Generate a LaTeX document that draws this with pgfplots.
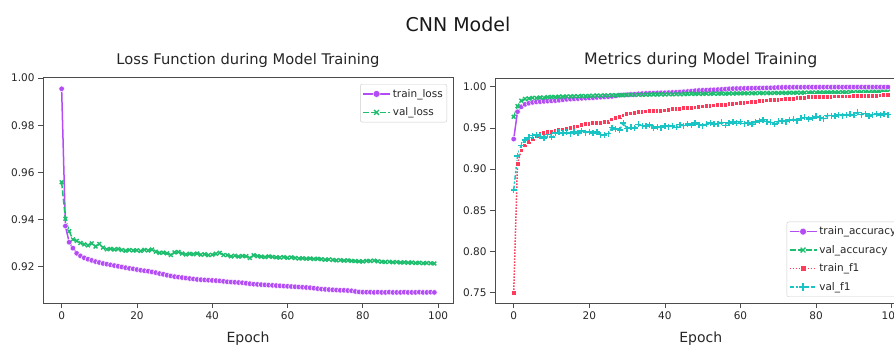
\documentclass[border=0pt]{standalone}
\usepackage{fontspec}
\setmainfont{DejaVu Sans}
\usepackage{pgfplots}
\usepackage{pgfplotstable}
\pgfplotsset{compat=1.18}
\definecolor{cpurple}{HTML}{B44CF5}
\definecolor{cgreen}{HTML}{1DBE6E}
\definecolor{cred}{HTML}{FF3B5C}
\definecolor{ccyan}{HTML}{19C4C4}

\pgfplotstableread{
ep tl vl
0 0.9955 0.9558
1 0.9372 0.9403
2 0.9303 0.9350
3 0.9278 0.9315
4 0.9256 0.9309
5 0.9245 0.9300
6 0.9237 0.9294
7 0.9231 0.9290
8 0.9226 0.9298
9 0.9221 0.9285
10 0.9217 0.9296
11 0.9213 0.9280
12 0.9210 0.9273
13 0.9207 0.9275
14 0.9204 0.9272
15 0.9201 0.9274
16 0.9198 0.9270
17 0.9195 0.9267
18 0.9192 0.9270
19 0.9190 0.9268
20 0.9187 0.9269
21 0.9184 0.9266
22 0.9182 0.9271
23 0.9180 0.9268
24 0.9177 0.9272
25 0.9174 0.9263
26 0.9170 0.9258
27 0.9167 0.9259
28 0.9163 0.9256
29 0.9160 0.9249
30 0.9157 0.9260
31 0.9155 0.9262
32 0.9153 0.9255
33 0.9151 0.9251
34 0.9149 0.9254
35 0.9147 0.9252
36 0.9145 0.9255
37 0.9144 0.9250
38 0.9143 0.9252
39 0.9142 0.9248
40 0.9141 0.9250
41 0.9140 0.9254
42 0.9139 0.9258
43 0.9137 0.9249
44 0.9135 0.9248
45 0.9134 0.9243
46 0.9133 0.9246
47 0.9132 0.9242
48 0.9131 0.9245
49 0.9129 0.9244
50 0.9127 0.9236
51 0.9125 0.9248
52 0.9124 0.9244
53 0.9123 0.9242
54 0.9122 0.9240
55 0.9121 0.9243
56 0.9120 0.9241
57 0.9119 0.9239
58 0.9118 0.9238
59 0.9117 0.9240
60 0.9116 0.9237
61 0.9115 0.9239
62 0.9114 0.9236
63 0.9113 0.9234
64 0.9112 0.9235
65 0.9111 0.9233
66 0.9110 0.9234
67 0.9108 0.9232
68 0.9106 0.9233
69 0.9104 0.9231
70 0.9103 0.9229
71 0.9102 0.9230
72 0.9101 0.9228
73 0.9100 0.9226
74 0.9099 0.9227
75 0.9099 0.9225
76 0.9098 0.9226
77 0.9097 0.9224
78 0.9094 0.9223
79 0.9092 0.9222
80 0.9091 0.9221
81 0.9091 0.9224
82 0.9091 0.9223
83 0.9090 0.9225
84 0.9091 0.9222
85 0.9090 0.9220
86 0.9090 0.9219
87 0.9091 0.9220
88 0.9090 0.9218
89 0.9090 0.9219
90 0.9090 0.9217
91 0.9091 0.9218
92 0.9090 0.9216
93 0.9090 0.9217
94 0.9090 0.9215
95 0.9091 0.9216
96 0.9090 0.9214
97 0.9090 0.9215
98 0.9091 0.9214
99 0.9090 0.9213
}\lossdata

\pgfplotstableread{
ep ta va tf vf
0 0.9365 0.9636 0.7500 0.8746
1 0.9697 0.9765 0.9070 0.9159
2 0.9757 0.9830 0.9230 0.9290
3 0.9786 0.9852 0.9290 0.9355
4 0.9800 0.9858 0.9335 0.9385
5 0.9810 0.9865 0.9370 0.9405
6 0.9815 0.9863 0.9400 0.9412
7 0.9819 0.9869 0.9425 0.9398
8 0.9823 0.9867 0.9442 0.9378
9 0.9826 0.9874 0.9450 0.9418
10 0.9829 0.9877 0.9458 0.9392
11 0.9832 0.9876 0.9466 0.9438
12 0.9836 0.9880 0.9475 0.9448
13 0.9843 0.9879 0.9484 0.9436
14 0.9847 0.9883 0.9493 0.9446
15 0.9850 0.9881 0.9502 0.9432
16 0.9853 0.9885 0.9512 0.9450
17 0.9856 0.9884 0.9522 0.9438
18 0.9859 0.9888 0.9535 0.9462
19 0.9862 0.9886 0.9547 0.9444
20 0.9864 0.9890 0.9556 0.9456
21 0.9867 0.9889 0.9560 0.9437
22 0.9870 0.9893 0.9564 0.9452
23 0.9873 0.9891 0.9568 0.9418
24 0.9876 0.9895 0.9572 0.9412
25 0.9879 0.9894 0.9576 0.9430
26 0.9883 0.9897 0.9605 0.9505
27 0.9889 0.9896 0.9622 0.9488
28 0.9898 0.9899 0.9638 0.9476
29 0.9900 0.9898 0.9655 0.9560
30 0.9903 0.9901 0.9668 0.9492
31 0.9906 0.9903 0.9678 0.9508
32 0.9909 0.9900 0.9688 0.9498
33 0.9914 0.9904 0.9694 0.9545
34 0.9917 0.9902 0.9699 0.9528
35 0.9919 0.9905 0.9702 0.9522
36 0.9921 0.9904 0.9705 0.9538
37 0.9923 0.9907 0.9707 0.9498
38 0.9925 0.9905 0.9710 0.9510
39 0.9926 0.9908 0.9713 0.9503
40 0.9927 0.9907 0.9716 0.9528
41 0.9929 0.9910 0.9724 0.9514
42 0.9931 0.9908 0.9729 0.9524
43 0.9933 0.9911 0.9733 0.9508
44 0.9936 0.9909 0.9737 0.9540
45 0.9939 0.9912 0.9741 0.9526
46 0.9942 0.9911 0.9744 0.9550
47 0.9947 0.9914 0.9747 0.9536
48 0.9952 0.9912 0.9752 0.9560
49 0.9955 0.9915 0.9757 0.9540
50 0.9957 0.9913 0.9763 0.9528
51 0.9959 0.9916 0.9768 0.9545
52 0.9961 0.9914 0.9772 0.9558
53 0.9963 0.9917 0.9776 0.9542
54 0.9965 0.9915 0.9779 0.9552
55 0.9967 0.9918 0.9782 0.9568
56 0.9971 0.9916 0.9786 0.9530
57 0.9975 0.9919 0.9790 0.9562
58 0.9977 0.9917 0.9795 0.9575
59 0.9978 0.9920 0.9800 0.9555
60 0.9979 0.9919 0.9805 0.9578
61 0.9980 0.9921 0.9809 0.9552
62 0.9981 0.9920 0.9813 0.9560
63 0.9982 0.9922 0.9817 0.9545
64 0.9983 0.9921 0.9821 0.9572
65 0.9984 0.9923 0.9826 0.9585
66 0.9985 0.9922 0.9831 0.9600
67 0.9986 0.9924 0.9836 0.9575
68 0.9987 0.9923 0.9840 0.9568
69 0.9989 0.9925 0.9843 0.9548
70 0.9991 0.9924 0.9846 0.9580
71 0.9992 0.9926 0.9849 0.9590
72 0.9993 0.9925 0.9852 0.9575
73 0.9993 0.9927 0.9855 0.9598
74 0.9994 0.9926 0.9858 0.9605
75 0.9994 0.9928 0.9862 0.9590
76 0.9994 0.9927 0.9866 0.9615
77 0.9995 0.9929 0.9870 0.9628
78 0.9995 0.9928 0.9874 0.9610
79 0.9995 0.9930 0.9877 0.9622
80 0.9995 0.9929 0.9879 0.9640
81 0.9995 0.9931 0.9880 0.9625
82 0.9995 0.9930 0.9881 0.9612
83 0.9996 0.9932 0.9882 0.9648
84 0.9995 0.9931 0.9883 0.9650
85 0.9996 0.9933 0.9884 0.9642
86 0.9996 0.9932 0.9884 0.9660
87 0.9995 0.9934 0.9885 0.9648
88 0.9996 0.9933 0.9885 0.9658
89 0.9996 0.9935 0.9886 0.9665
90 0.9996 0.9934 0.9887 0.9652
91 0.9996 0.9936 0.9888 0.9690
92 0.9996 0.9935 0.9889 0.9660
93 0.9996 0.9937 0.9890 0.9672
94 0.9996 0.9936 0.9891 0.9645
95 0.9996 0.9938 0.9892 0.9662
96 0.9996 0.9937 0.9894 0.9670
97 0.9996 0.9939 0.9896 0.9658
98 0.9996 0.9938 0.9899 0.9668
99 0.9996 0.9940 0.9907 0.9662
}\metricdata

\pgfplotsset{
  base/.style={
    scale only axis,
    axis line style={black!70, line width=0.8pt},
    tick align=outside,
    xtick pos=bottom, ytick pos=left,
    major tick length=4.9pt,
    tick style={black!70, line width=0.8pt},
    ticklabel style={font=\fontsize{10.5}{12}\selectfont, text=black!85},
    /pgf/number format/assume math mode=true,
    xmin=-4.95, xmax=103.95,
    xtick={0,20,40,60,80,100},
    yticklabel style={/pgf/number format/fixed, /pgf/number format/precision=2, /pgf/number format/fixed zerofill},
    xlabel={Epoch},
    xlabel style={at={(axis description cs:0.5,0)}, anchor=base, yshift=-39.5pt, font=\fontsize{14}{16}\selectfont, text=black!85},
    legend cell align=left,
    legend style={draw=black!20, rounded corners=2pt, fill=white, font=\fontsize{10.5}{12}\selectfont, text=black!85, inner xsep=2pt, inner ysep=3pt, nodes={inner sep=2pt}, row sep=5pt},
    legend image code/.code={\draw[mark repeat=2,mark phase=2,##1,line width=1.5pt,every mark/.append style={scale=1.25}] plot coordinates {(0pt,0pt) (13.5pt,0pt) (27pt,0pt)};},
  },
  s1/.style={cpurple, line width=1.5pt, solid, mark=*, mark size=2.8pt, mark options={solid, fill=cpurple, draw=white, line width=0.45pt}},
  s2/.style={cgreen, line width=1.5pt, dash pattern=on 6pt off 2.25pt, mark=x, mark size=2.7pt, mark options={solid, draw=cgreen, line width=1.4pt}},
  s3/.style={cred, line width=1.5pt, dash pattern=on 1.5pt off 1.5pt, mark=square*, mark size=2.4pt, mark options={solid, fill=cred, draw=white, line width=0.45pt}},
  s4/.style={ccyan, line width=1.5pt, dash pattern=on 4.5pt off 1.9pt on 2.25pt off 1.9pt, mark=+, mark size=3pt, mark options={solid, draw=ccyan, line width=1.4pt}},
}

\begin{document}
\begin{tikzpicture}
\path[use as bounding box] (0,0) rectangle (894pt,345pt);
\clip (0,0) rectangle (894pt,345pt);
\node[anchor=base, font=\fontsize{19}{22}\selectfont, text=black!90] at (458pt,313.3pt) {CNN Model};

\begin{axis}[base,
  at={(43pt,42pt)}, anchor=south west,
  width=410pt, height=226pt,
  ymin=0.9045, ymax=1.0005,
  ytick={0.92,0.94,0.96,0.98,1.00},
  title={Loss Function during Model Training},
  title style={at={(axis description cs:0.5,1)}, anchor=base, yshift=6pt, font=\fontsize{14.7}{17}\selectfont, text=black!85},
  legend style={at={(axis description cs:1,1)}, anchor=north east, xshift=-6pt, yshift=-7pt},
]
\addplot[s1] table[x=ep, y=tl] {\lossdata};
\addlegendentry{train\_loss}
\addplot[s2] table[x=ep, y=vl] {\lossdata};
\addlegendentry{val\_loss}
\end{axis}

\begin{axis}[base,
  at={(495pt,42pt)}, anchor=south west,
  width=411.6pt, height=225pt,
  ymin=0.7376, ymax=1.0106,
  ytick={0.75,0.80,0.85,0.90,0.95,1.00},
  title={Metrics during Model Training},
  title style={at={(axis description cs:0.5,1)}, anchor=base, yshift=7.3pt, font=\fontsize{15.8}{18}\selectfont, text=black!85},
  legend style={at={(axis description cs:1,0)}, anchor=south east, xshift=-6pt, yshift=6pt},
]
\addplot[s1] table[x=ep, y=ta] {\metricdata};
\addlegendentry{train\_accuracy}
\addplot[s2] table[x=ep, y=va] {\metricdata};
\addlegendentry{val\_accuracy}
\addplot[s3] table[x=ep, y=tf] {\metricdata};
\addlegendentry{train\_f1}
\addplot[s4] table[x=ep, y=vf] {\metricdata};
\addlegendentry{val\_f1}
\end{axis}
\end{tikzpicture}
\end{document}
